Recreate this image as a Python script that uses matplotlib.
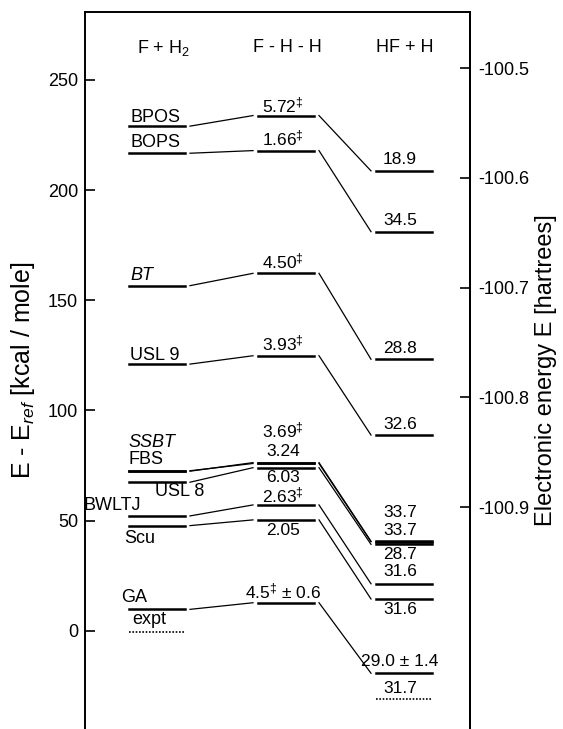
import numpy as np
import matplotlib.pyplot as plt

plt.rcParams['font.family'] = ['Liberation Sans', 'DejaVu Sans']
plt.rcParams['mathtext.fontset'] = 'custom'
plt.rcParams['mathtext.rm'] = 'Liberation Sans'
plt.rcParams['mathtext.it'] = 'Liberation Sans:italic'

# energy levels (kcal/mole relative to E_ref)
methods = ['BPOS', 'BOPS', 'BT', 'USL 9', 'SSBT', 'FBS', 'USL 8', 'BWLTJ', 'Scu', 'GA', 'expt']
reactant = [229.0, 216.7, 156.6, 121.0, 72.4, 72.6, 67.4, 52.1, 47.7, 9.7, -0.4]
saddle = [233.8, 217.9, 162.2, 124.8, 76.3, 75.9, 74.0, 57.1, 50.3, 12.7, np.nan]
product = [208.7, 181.1, 123.2, 88.8, 40.6, 40.4, 39.2, 21.3, 14.4, -19.3, -31.0]

saddle_labels = ['5.72$^{\u2021}$', '1.66$^{\u2021}$', '4.50$^{\u2021}$', '3.93$^{\u2021}$',
                 '3.69$^{\u2021}$', '3.24', '6.03', '2.63$^{\u2021}$', '2.05',
                 '4.5$^{\u2021}$ \u00b1 0.6']
product_labels = ['18.9', '34.5', '28.8', '32.6', '33.7', '33.7', '28.7', '31.6', '31.6',
                  '29.0 \u00b1 1.4', '31.7']
columns = ['F + H$_2$', 'F - H - H', 'HF + H']

# right axis: hartree ticks
hartree_ticks = [-100.5, -100.6, -100.7, -100.8, -100.9]

# layout (x in pixel-like units of the original figure)
xc = [157, 286, 404]
hw = 28
gap = 5

# label positions (x, y, ha) for left labels
left_pos = [(130, 233.1, 'left'), (130, 221.8, 'left'), (130, 161.4, 'left'),
            (130, 125.1, 'left'), (128, 85.2, 'left'), (128, 77.5, 'left'),
            (155, 63.4, 'left'), (141, 57.0, 'right'), (124, 42.0, 'left'),
            (121, 15.3, 'left'), (132, 4.9, 'left')]
italic = ['BT', 'SSBT']
mid_y = [238.6, 223.6, 167.4, 130.6, 91.1, 81.3, 69.4, 61.2, 45.7, 17.7]
right_y = [213.7, 186.1, 128.2, 93.8, 53.7, 45.4, 34.4, 26.8, 9.7, -14.1, -26.1]

fig = plt.figure(figsize=(5.63, 7.29), dpi=100)
ax = fig.add_axes([85 / 563, 0.0, (470 - 85) / 563, 1 - 12 / 729])
ax.set_xlim(85, 470)
ax.set_ylim(-44.6, 280.8)

for i, m in enumerate(methods):
    ls = (0, (1, 1)) if m == 'expt' else '-'
    lw = 1.2 if m == 'expt' else 1.8
    ax.plot([xc[0] - hw, xc[0] + hw], [reactant[i]] * 2, color='black', lw=lw, ls=ls)
    ax.plot([xc[2] - hw, xc[2] + hw], [product[i]] * 2, color='black', lw=lw, ls=ls)
    if not np.isnan(saddle[i]):
        ax.plot([xc[1] - hw, xc[1] + hw], [saddle[i]] * 2, color='black', lw=1.8)
        ax.plot([xc[0] + hw + gap, xc[1] - hw - gap], [reactant[i], saddle[i]],
                color='black', lw=0.9)
        ax.plot([xc[1] + hw + gap, xc[2] - hw - gap], [saddle[i], product[i]],
                color='black', lw=0.9)

fs = 13
for i, m in enumerate(methods):
    x, y, ha = left_pos[i]
    ax.text(x, y, m, ha=ha, va='center', fontsize=fs,
            style='italic' if m in italic else 'normal', clip_on=False)
for i, s in enumerate(saddle_labels):
    ax.text(283, mid_y[i], s, ha='center', va='center', fontsize=fs - 0.5)
for i, s in enumerate(product_labels):
    ax.text(400, right_y[i], s, ha='center', va='center', fontsize=fs - 0.5)
for x, s in zip([164, 287, 405], columns):
    ax.text(x, 264.5, s, ha='center', va='center', fontsize=fs)

ax.spines['bottom'].set_visible(False)
ax.set_xticks([])
ax.set_yticks([0, 50, 100, 150, 200, 250])
ax.tick_params(axis='y', direction='in', length=7, width=1.2, labelsize=fs, pad=5)
ax.set_ylabel('E - E$_{ref}$ [kcal / mole]', fontsize=18, labelpad=8)
for sp in ax.spines.values():
    sp.set_linewidth(1.4)

# hartree axis: -100.5 sits at 255.3, 0.1 hartree = 49.8 units
sec = ax.secondary_yaxis('right', functions=(lambda v: -100.5 + (v - 255.3) / 498.0,
                                              lambda e: 255.3 + (e + 100.5) * 498.0))
sec.set_yticks(hartree_ticks)
sec.set_yticklabels(['%.1f' % t for t in hartree_ticks])
sec.tick_params(direction='in', length=7, width=1.2, labelsize=fs, pad=6)
sec.spines['right'].set_linewidth(1.4)
sec.set_ylabel('Electronic energy E [hartrees]', fontsize=17, labelpad=4)

fig.savefig('out.png', dpi=100)
